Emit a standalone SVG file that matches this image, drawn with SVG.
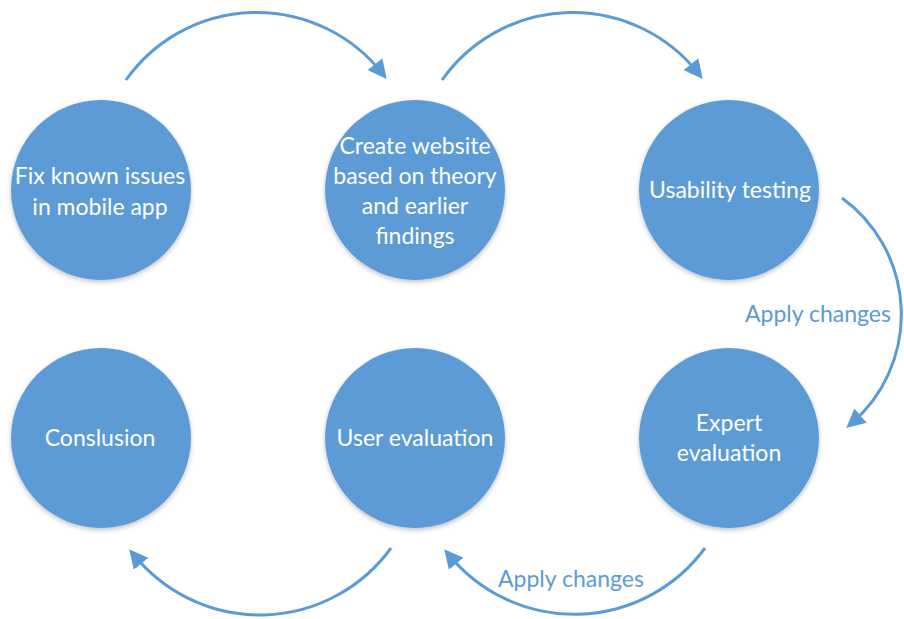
<svg xmlns="http://www.w3.org/2000/svg" width="904" height="619" viewBox="0 0 904 619">
  <defs>
    <marker id="arrow" viewBox="0 0 10 10" refX="6" refY="5" markerWidth="6.3" markerHeight="6.3" orient="auto" markerUnits="strokeWidth">
      <path d="M0,0 L10,5 L0,10 Z" fill="#5B9BD5"/>
    </marker>
    <filter id="soft" x="-10%" y="-10%" width="120%" height="125%">
      <feGaussianBlur in="SourceAlpha" stdDeviation="2.5"/>
      <feOffset dy="2" result="b"/>
      <feComponentTransfer><feFuncA type="linear" slope="0.25"/></feComponentTransfer>
      <feMerge><feMergeNode/><feMergeNode in="SourceGraphic"/></feMerge>
    </filter>
    <style>
      .node circle { fill: #5B9BD5; filter: url(#soft); }
      .node text { fill: #FFFFFF; font-family: Lato, "Liberation Sans", sans-serif; font-size: 23px; text-anchor: middle; }
      .conn path { fill: none; stroke: #5B9BD5; stroke-width: 3; marker-end: url(#arrow); }
      .label { fill: #5B9BD5; font-family: Lato, "Liberation Sans", sans-serif; font-size: 23px; text-anchor: middle; }
    </style>
  </defs>
  <rect width="904" height="619" fill="#FFFFFF"/>

  <!-- connectors -->
  <g id="connectors" class="conn">
    <path d="M126,80 A160,160 0 0 1 382,73"/>
    <path d="M442,80 A160,160 0 0 1 698,73"/>
    <path d="M842,198 A144,144 0 0 1 852,423"/>
    <path d="M705,548 A162,162 0 0 1 449,555"/>
    <path d="M391,548 A162,162 0 0 1 134,555"/>
  </g>

  <text class="label" x="818" y="322">Apply changes</text>
  <text class="label" x="571" y="587">Apply changes</text>

  <g id="node-fix" class="node">
    <circle cx="101" cy="190" r="90"/>
    <text x="100" y="184">Fix known issues</text>
    <text x="100" y="215">in mobile app</text>
  </g>
  <g id="node-create" class="node">
    <circle cx="415" cy="190" r="90"/>
    <text x="415" y="154">Create website</text>
    <text x="415" y="184">based on theory</text>
    <text x="415" y="214">and earlier</text>
    <text x="415" y="244">findings</text>
  </g>
  <g id="node-usability" class="node">
    <circle cx="729" cy="190" r="90"/>
    <text x="730" y="198">Usability testing</text>
  </g>
  <g id="node-conclusion" class="node">
    <circle cx="101" cy="438" r="90"/>
    <text x="100" y="446">Conslusion</text>
  </g>
  <g id="node-user" class="node">
    <circle cx="415" cy="438" r="90"/>
    <text x="415" y="446">User evaluation</text>
  </g>
  <g id="node-expert" class="node">
    <circle cx="729" cy="438" r="90"/>
    <text x="729" y="431">Expert</text>
    <text x="729" y="461">evaluation</text>
  </g>
</svg>
